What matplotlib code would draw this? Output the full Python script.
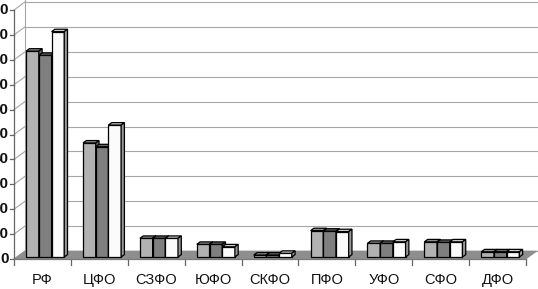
import matplotlib
matplotlib.use("Agg")
import matplotlib.pyplot as plt
from matplotlib.patches import Polygon
import numpy as np

categories = ["РФ", "ЦФО", "СЗФО", "ЮФО", "СКФО", "ПФО", "УФО", "СФО", "ДФО"]
series1 = [82.7, 45.8, 7.5, 5.1, 0.8, 10.6, 5.5, 6.1, 2.1]
series2 = [81.0, 44.3, 7.5, 5.1, 0.8, 10.4, 5.5, 5.9, 2.1]
series3 = [90.5, 53.0, 7.5, 4.1, 1.5, 10.2, 6.1, 6.1, 2.1]
ytick_values = list(range(0, 101, 10))
ytick_labels = [str(v) for v in ytick_values]

colors = ["#b2b2b2", "#7f7f7f", "#fbfbfb"]

W, H = 538, 289
fig = plt.figure(figsize=(W / 100, H / 100), dpi=100)
ax = fig.add_axes([0, 0, 1, 1])
ax.set_axis_off()

# pixel geometry of the plot frame
x0_px, x1_px = 14, 526
y0_px, y100_px = 259, 10
ncat = len(categories)
xu = ncat / (x1_px - x0_px)       # data units per px (x)
yu = 100 / (y0_px - y100_px)      # data units per px (y)
ax.set_xlim(-x0_px * xu, (W - x0_px) * xu)
ax.set_ylim(-(H - y0_px) * yu, 100 + y100_px * yu)

DX = 11 * xu   # depth offset
DY = 8 * yu
ymax = 100

# back wall gridlines
for v in ytick_values:
    ax.plot([DX, ncat + DX], [v + DY, v + DY], color="#a6a6a6", lw=0.8, zorder=1)
    ax.plot([0, DX], [v, v + DY], color="#a6a6a6", lw=0.8, zorder=1)
ax.plot([DX, DX], [DY, ymax + DY + 2], color="#a6a6a6", lw=0.8, zorder=1)

# floor
floor = Polygon([[0, 0], [ncat, 0], [ncat + DX, DY], [DX, DY]], closed=True,
                facecolor="#8e8e8e", edgecolor="#8e8e8e", lw=0.5, zorder=2)
ax.add_patch(floor)

# axes lines and ticks
ax.plot([0, 0], [0, ymax], color="#666666", lw=0.9, zorder=2)
ax.plot([0, ncat], [0, 0], color="#7a7a7a", lw=0.9, zorder=6)
for v, lab in zip(ytick_values, ytick_labels):
    ax.plot([-4 * xu, 0], [v, v], color="#666666", lw=0.9, zorder=2)
    ax.text(-5.5 * xu, v, lab, ha="right", va="center", fontsize=11,
            fontweight="bold", family="Liberation Sans", color="#111111")
for i in range(ncat + 1):
    ax.plot([i, i], [0, -6 * yu], color="#666666", lw=0.9, zorder=2)
for i, c in enumerate(categories):
    ax.text(i + 0.5, -21 * yu, c, ha="center", va="center", fontsize=10.5,
            family=["Liberation Sans Narrow", "Liberation Sans", "DejaVu Sans"],
            color="#111111")

# bars (pseudo 3D)
d0, d1 = 0.25, 0.55
bw = 0.223
offsets = [-bw, 0, bw]
x = np.arange(ncat) + 0.5


def shade(col, f):
    c = np.array(matplotlib.colors.to_rgb(col))
    return tuple(c * f)


z = 3.0
for i in range(ncat):
    for s, vals in enumerate([series1, series2, series3]):
        v = vals[i]
        left = x[i] + offsets[s] - bw / 2 + d0 * DX
        base = d0 * DY
        z += 0.01
        ax.bar(left, v, width=bw, bottom=base, align="edge", color=colors[s],
               edgecolor="black", lw=0.9, zorder=z)
        ddx = (d1 - d0) * DX
        ddy = (d1 - d0) * DY
        top = Polygon([[left, base + v], [left + bw, base + v],
                       [left + bw + ddx, base + v + ddy], [left + ddx, base + v + ddy]],
                      closed=True, facecolor=shade(colors[s], 0.82),
                      edgecolor="black", lw=0.9, zorder=z)
        side = Polygon([[left + bw, base], [left + bw + ddx, base + ddy],
                        [left + bw + ddx, base + v + ddy], [left + bw, base + v]],
                       closed=True, facecolor=shade(colors[s], 0.6),
                       edgecolor="black", lw=0.9, zorder=z)
        ax.add_patch(top)
        ax.add_patch(side)

fig.savefig("out.png", dpi=100)
